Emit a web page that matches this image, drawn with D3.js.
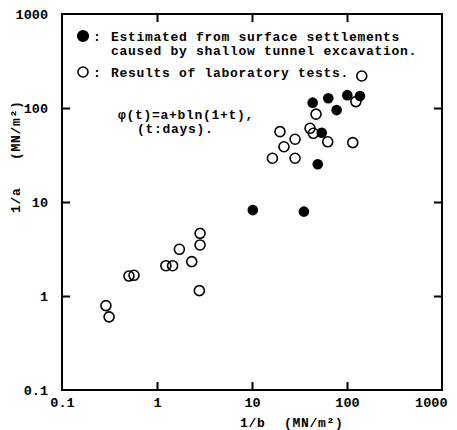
<!DOCTYPE html>
<html>
<head>
<meta charset="utf-8">
<script src="https://cdn.jsdelivr.net/npm/d3@7"></script>
<style>
  body { margin: 0; background: #fff; }
  text { font-family: "Liberation Mono", "DejaVu Sans Mono", monospace; fill: #000; }
</style>
</head>
<body>
<div id="chart"></div>
<script>
// field estimates (filled circles): [1/b, 1/a]
const fieldB = [10.2, 35.2, 43.5, 63.5, 77.8, 54.2, 49.2, 100.7, 137];
const fieldA = [8.2, 7.9, 114, 127, 95, 54.6, 25.2, 137, 134];

// laboratory tests (open circles)
const labB = [143, 124, 47.2, 40.8, 44.2, 62.7, 115, 19.7, 28.4, 21.7, 16.4, 28.4,
  2.84, 2.84, 1.72, 2.32, 1.24, 1.46, 2.79, 0.507, 0.573, 0.29, 0.313];
const labA = [219, 117, 86, 60.8, 53.8, 43.7, 42.8, 56, 46.5, 38.7, 29.2, 29.2,
  4.64, 3.49, 3.14, 2.32, 2.1, 2.1, 1.14, 1.63, 1.66, 0.79, 0.60];

const decades = [0.1, 1, 10, 100, 1000];
const decadeLabels = ["0.1", "1", "10", "100", "1000"];
const innerTicks = [1, 10, 100];

const legendLines = [
  { sym: "filled", lines: ["Estimated from surface settlements", "caused by shallow tunnel excavation."] },
  { sym: "open", lines: ["Results of laboratory tests."] },
];
const formulaLines = ["\u03c6(t)=a+bln(1+t),", "(t:days)."];

const width = 457, height = 430;
const plot = { left: 62, right: 442, top: 14, bottom: 390 };

const svg = d3.select("#chart")
  .append("svg")
  .attr("width", width)
  .attr("height", height);

const x = d3.scaleLog().domain([0.1, 1000]).range([plot.left, plot.right]);
const y = d3.scaleLog().domain([0.1, 1000]).range([plot.bottom, plot.top]);

const fmt = d => decadeLabels[decades.indexOf(d)];

// tick labels
const yLab = svg.append("g")
  .attr("transform", `translate(${plot.left},0)`)
  .call(d3.axisLeft(y).tickValues(decades).tickFormat(fmt).tickSize(0).tickPadding(14));
const xLab = svg.append("g")
  .attr("transform", `translate(0,${plot.bottom})`)
  .call(d3.axisBottom(x).tickValues(decades).tickFormat(fmt).tickSize(0).tickPadding(7));
[yLab, xLab].forEach(g => {
  g.select(".domain").remove();
  g.selectAll("text")
    .style("font-family", "'Liberation Mono', monospace")
    .style("font-size", "13.5px")
    .style("font-weight", "bold")
    .attr("fill", "#000");
});
// last x label sits tight against the right edge
xLab.selectAll(".tick")
  .filter(d => d === 1000)
  .select("text")
  .attr("text-anchor", "end")
  .attr("x", 5);

// inner ticks on all four sides
const tickAxes = [
  [d3.axisLeft(y), `translate(${plot.left},0)`],
  [d3.axisRight(y), `translate(${plot.right},0)`],
  [d3.axisBottom(x), `translate(0,${plot.bottom})`],
  [d3.axisTop(x), `translate(0,${plot.top})`],
];
tickAxes.forEach(([ax, tr]) => {
  const g = svg.append("g")
    .attr("transform", tr)
    .call(ax.tickValues(innerTicks).tickSize(-8).tickFormat(""));
  g.select(".domain").remove();
  g.selectAll("line").attr("stroke", "#000").attr("stroke-width", 2);
});

// frame
svg.append("rect")
  .attr("x", plot.left)
  .attr("y", plot.top)
  .attr("width", plot.right - plot.left)
  .attr("height", plot.bottom - plot.top)
  .attr("fill", "none")
  .attr("stroke", "#000")
  .attr("stroke-width", 2);

// axis titles
const titleStyle = sel => sel
  .style("font-size", "13px")
  .style("font-weight", "bold")
  .style("letter-spacing", "0.7px");

svg.append("text").attr("x", 240).attr("y", 427).text("1/b").call(titleStyle);
svg.append("text").attr("x", 284).attr("y", 427).text("(MN/m\u00b2)").call(titleStyle);

svg.append("text")
  .attr("transform", "translate(20,213) rotate(-90)")
  .text("1/a").call(titleStyle);
svg.append("text")
  .attr("transform", "translate(20,160) rotate(-90)")
  .text("(MN/m\u00b2)").call(titleStyle);

// legend
const legY = [40.5, 76.5];
legendLines.forEach((item, i) => {
  svg.append("circle")
    .attr("cx", 83)
    .attr("cy", legY[i] - 4.5)
    .attr("r", item.sym === "filled" ? 5.3 : 5)
    .attr("fill", item.sym === "filled" ? "#000" : "#fff")
    .attr("stroke", "#000")
    .attr("stroke-width", 1.6);
  svg.append("text").attr("x", 93).attr("y", legY[i]).text(":").call(titleStyle);
  item.lines.forEach((line, j) => {
    svg.append("text")
      .attr("x", 111)
      .attr("y", legY[i] + j * 14)
      .text(line).call(titleStyle);
  });
});

// formula
svg.append("text").attr("x", 118).attr("y", 119).text(formulaLines[0]).call(titleStyle);
svg.append("text").attr("x", 137).attr("y", 133).text(formulaLines[1]).call(titleStyle);

// points
const labData = labB.map((b, i) => ({ b, a: labA[i] }));
const fieldData = fieldB.map((b, i) => ({ b, a: fieldA[i] }));

svg.append("g")
  .selectAll("circle")
  .data(labData)
  .enter()
  .append("circle")
  .attr("cx", d => x(d.b))
  .attr("cy", d => y(d.a))
  .attr("r", 5)
  .attr("fill", "none")
  .attr("stroke", "#000")
  .attr("stroke-width", 1.6);

svg.append("g")
  .selectAll("circle")
  .data(fieldData)
  .enter()
  .append("circle")
  .attr("cx", d => x(d.b))
  .attr("cy", d => y(d.a))
  .attr("r", 5.3)
  .attr("fill", "#000");
</script>
</body>
</html>
